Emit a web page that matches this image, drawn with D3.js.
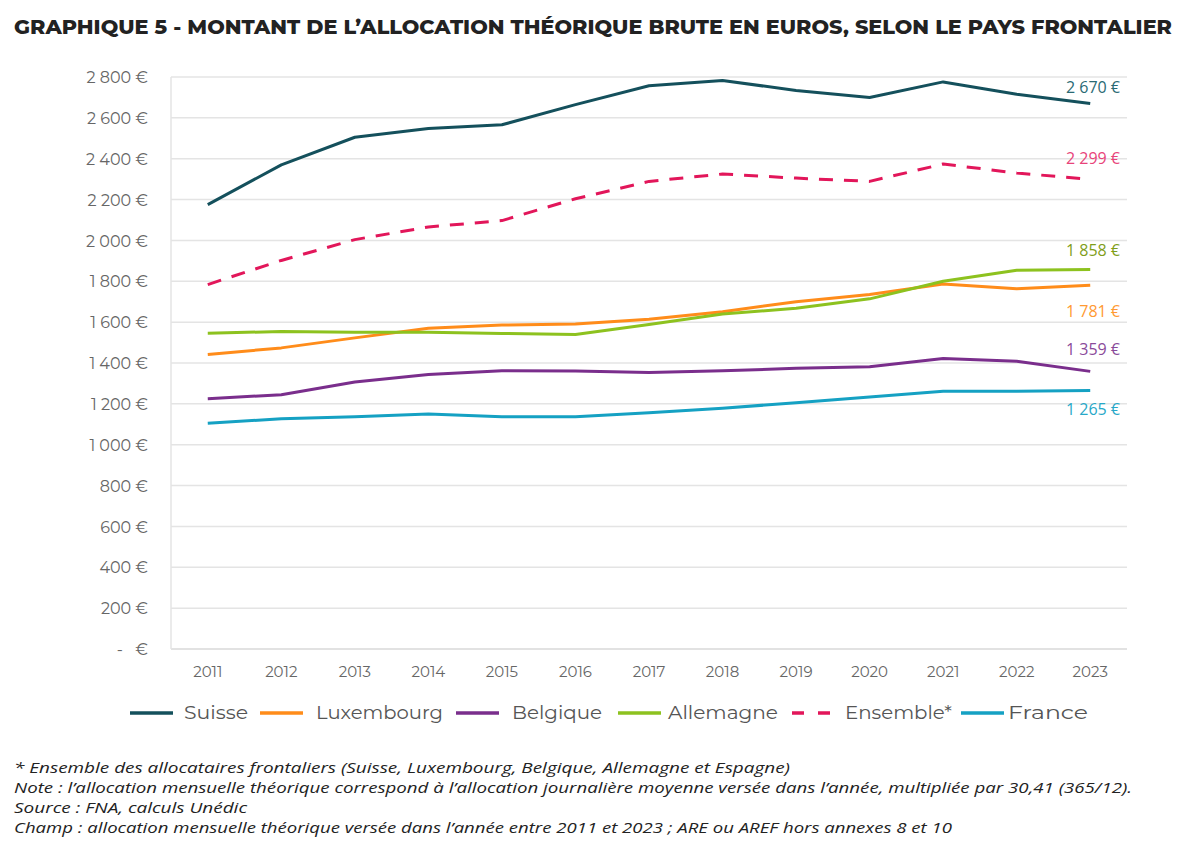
<!DOCTYPE html>
<html><head><meta charset="utf-8">
<script src="https://cdn.jsdelivr.net/npm/d3@7"></script>
<style>body{margin:0;background:#fff}</style>
</head><body>
<svg id="c" width="1200" height="850"></svg>
<script>
const years = ["2011","2012","2013","2014","2015","2016","2017","2018","2019","2020","2021","2022","2023"];
const suisse     = [2175,2370,2505,2548,2566,2665,2757,2783,2734,2700,2776,2716,2670];
const luxembourg = [1442,1474,1523,1570,1586,1591,1614,1651,1700,1735,1787,1764,1781];
const belgique   = [1225,1245,1307,1344,1362,1361,1354,1362,1374,1382,1422,1409,1359];
const allemagne  = [1546,1554,1551,1551,1545,1540,1588,1640,1668,1714,1800,1854,1858];
const ensemble   = [1784,1902,2004,2066,2097,2204,2289,2325,2305,2289,2374,2330,2299];
const france     = [1105,1127,1137,1150,1137,1137,1157,1178,1206,1233,1262,1262,1265];
const yTicks = [0,200,400,600,800,1000,1200,1400,1600,1800,2000,2200,2400,2600,2800];

const seriesNames = ["Suisse","Luxembourg","Belgique","Allemagne","Ensemble*","France"];
const seriesVals = [suisse,luxembourg,belgique,allemagne,ensemble,france];
const seriesColors = ["#14505c","#ff8c1a","#7a2e8c","#8dc21f","#e2165a","#15a1c3"];
const labelColors = ["#2a6a74","#ff9a33","#8a4a9a","#7f9e1a","#e8437a","#27a8c8"];
const dashed = [false,false,false,false,true,false];

const svg = d3.select("#c");
const fmt = v => v===0 ? "-\u00a0\u00a0\u00a0€" : d3.format(",")(v).replace(/,/g,"\u00a0") + "\u00a0€";

const x = d3.scaleBand().domain(years).range([171,1127]);
const y = d3.scaleLinear().domain([0,2800]).range([649,77]);

// title
svg.append("text").attr("x",14).attr("y",34)
  .style("font-family","Montserrat, Lato, 'Noto Sans', sans-serif").style("font-weight","800")
  .style("font-size","19px").attr("fill","#222").attr("textLength",1158).attr("lengthAdjust","spacingAndGlyphs")
  .text("GRAPHIQUE 5 - MONTANT DE L’ALLOCATION THÉORIQUE BRUTE EN EUROS, SELON LE PAYS FRONTALIER");

// gridlines
svg.append("g").selectAll("line").data(yTicks).join("line")
  .attr("x1",171).attr("x2",1127).attr("y1",d=>y(d)).attr("y2",d=>y(d))
  .attr("stroke",d=>d===0?"#d9d9d9":"#e4e4e4").attr("stroke-width",1.5);
svg.append("line").attr("x1",171).attr("x2",171).attr("y1",77).attr("y2",649)
  .attr("stroke","#e4e4e4").attr("stroke-width",1.5);

// y axis
const yAxis = svg.append("g").attr("transform","translate(148,0)")
  .call(d3.axisLeft(y).tickValues(yTicks).tickFormat(fmt).tickSize(0).tickPadding(0));
yAxis.select(".domain").remove();
yAxis.selectAll("text").style("font-family","Montserrat, 'Open Sans', sans-serif")
  .style("font-size","16px").attr("fill","#666").attr("dy","0.35em");

// x axis
const xAxis = svg.append("g").attr("transform","translate(0,649)")
  .call(d3.axisBottom(x).tickSize(0).tickPadding(17));
xAxis.select(".domain").remove();
xAxis.selectAll("text").style("font-family","Montserrat, 'Open Sans', sans-serif")
  .style("font-size","15px").attr("fill","#666");

// lines
const line = d3.line().x((d,i)=>x(years[i])+x.bandwidth()/2).y(d=>y(d));
seriesVals.forEach((vals,k)=>{
  svg.append("path").datum(vals).attr("d",line).attr("fill","none")
    .attr("stroke",seriesColors[k]).attr("stroke-width",3)
    .attr("stroke-linejoin","round")
    .attr("stroke-dasharray",dashed[k]?"14,11":null);
});

// end labels
const endOffsets = [-16,26,-22,-19,-21,19];
seriesVals.forEach((vals,k)=>{
  const v = vals[vals.length-1];
  svg.append("text").attr("x",1120).attr("y",y(v)+endOffsets[k]).attr("dy","0.35em")
    .attr("text-anchor","end").style("font-family","'Open Sans', sans-serif")
    .style("font-size","16px").attr("fill",labelColors[k]).text(fmt(v));
});

// legend
const legX = [130,260,456,618,792,961];
const legTX = [184,316,512,668,845,1008];
const legTW = [64,127,90,110,107,80];
const lg = svg.append("g");
seriesNames.forEach((n,k)=>{
  lg.append("line").attr("x1",legX[k]).attr("x2",legX[k]+43).attr("y1",713).attr("y2",713)
    .attr("stroke",seriesColors[k]).attr("stroke-width",3.5)
    .attr("stroke-dasharray",dashed[k]?"12,14":null);
  lg.append("text").attr("x",legTX[k]).attr("y",713).attr("dy","0.35em")
    .style("font-family","Montserrat, 'Open Sans', sans-serif").style("font-size","18px")
    .attr("textLength",legTW[k]).attr("lengthAdjust","spacingAndGlyphs")
    .attr("fill","#555").text(n);
});

// footnotes
const notes = [
 "*  Ensemble des allocataires frontaliers (Suisse, Luxembourg, Belgique, Allemagne et Espagne)",
 "Note : l’allocation mensuelle théorique correspond à l’allocation journalière moyenne versée dans l’année, multipliée par 30,41 (365/12).",
 "Source : FNA, calculs Unédic",
 "Champ : allocation mensuelle théorique versée dans l’année entre 2011 et 2023 ; ARE ou AREF hors annexes 8 et 10"
];
const noteW = [776,1118,233,938];
notes.forEach((t,i)=>{
  svg.append("text").attr("x",14).attr("y",773+i*20)
    .style("font-family","'Open Sans', sans-serif").style("font-style","italic")
    .style("font-size","14.5px").attr("fill","#222")
    .attr("textLength",noteW[i]).attr("lengthAdjust","spacingAndGlyphs").text(t);
});
</script>
</body></html>
